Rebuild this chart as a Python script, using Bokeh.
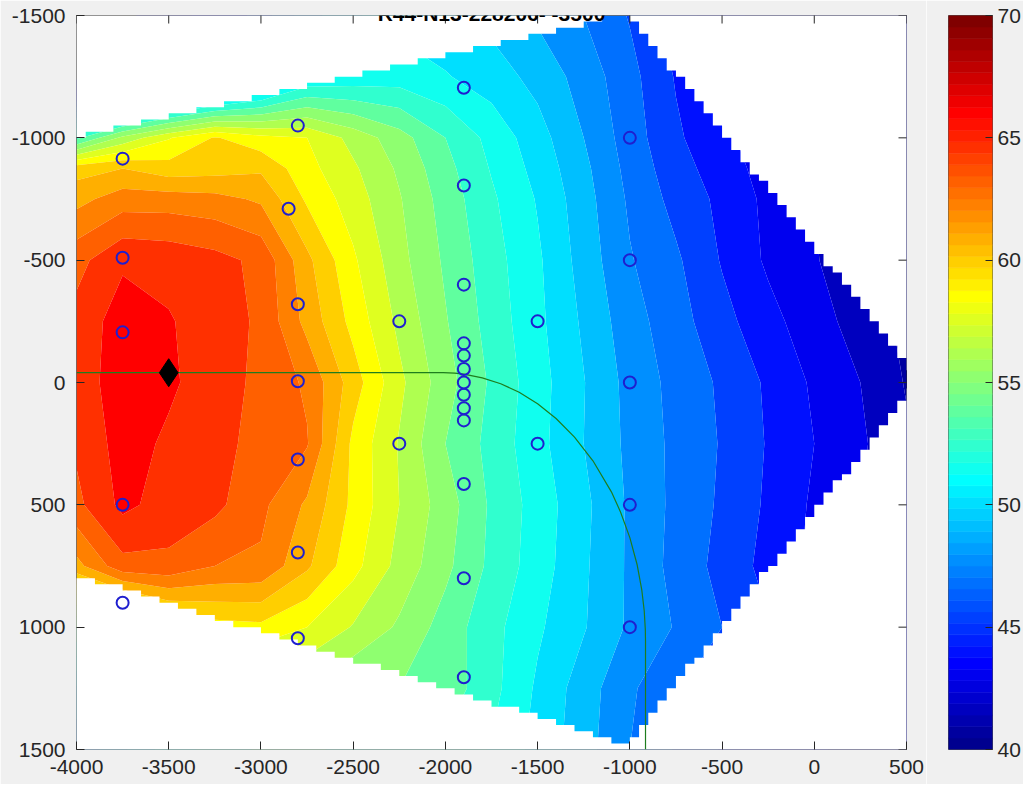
import numpy as np
from bokeh.plotting import figure
from bokeh.models import Range1d, FixedTicker, Label
from bokeh.layouts import row
from bokeh.embed import file_html
from bokeh.resources import INLINE

# ---------------- data ----------------
TITLE = "R44-N13-228206- -3500"

X_NODES = [-4000, -3750, -3500, -3250, -3000, -2750, -2500, -2250, -2000, -1750,
           -1500, -1250, -1000, -750, -500, -250, 0, 250, 500, 750]
Y_NODES = [-1500, -1250, -1000, -875, -750, -500, -250, 0, 250, 500, 750, 1000, 1250, 1500]

Z_Y_M1500 = [38.0, 40.0, 42.0, 44.0, 46.0, 48.5, 50.0, 51.0, 50.5, 49.8, 48.8, 47.8, 46.5, 44.8, 43.5, 42.5, 41.5, 41.0, 40.8, 40.7]
Z_Y_M1250 = [40.0, 42.0, 44.0, 46.0, 48.5, 51.4, 51.8, 52.0, 51.5, 50.8, 49.8, 48.5, 47.0, 45.3, 44.0, 43.0, 42.0, 41.4, 41.0, 40.8]
Z_Y_M1000 = [53.5, 56.5, 58.5, 59.9, 59.0, 58.6, 57.0, 55.5, 53.8, 52.2, 50.7, 49.0, 47.2, 45.6, 44.5, 43.5, 42.5, 41.5, 41.0, 40.8]
Z_Y_M875 = [60.5, 61.0, 60.3, 60.5, 60.8, 59.0, 57.6, 56.0, 54.2, 52.5, 51.0, 49.3, 47.4, 45.9, 44.8, 43.7, 42.8, 41.8, 41.2, 40.9]
Z_Y_M750 = [61.8, 62.8, 62.8, 62.6, 62.0, 59.6, 58.0, 56.3, 54.5, 52.8, 51.3, 49.5, 47.6, 46.2, 45.1, 43.9, 43.0, 42.0, 41.3, 41.0]
Z_Y_M500 = [64.2, 65.6, 65.4, 65.0, 64.3, 61.3, 58.8, 56.6, 54.8, 53.1, 51.6, 49.7, 47.9, 46.8, 45.3, 44.0, 43.1, 42.2, 41.5, 41.0]
Z_Y_M250 = [65.0, 66.4, 65.9, 65.2, 64.4, 61.8, 59.4, 57.1, 55.1, 53.3, 51.7, 50.0, 48.3, 47.1, 45.8, 44.6, 43.5, 42.5, 41.5, 41.0]
Z_Y_0 = [65.3, 66.3, 66.0, 65.2, 64.3, 63.2, 60.4, 57.7, 55.5, 53.6, 51.9, 50.25, 48.6, 47.4, 46.4, 45.2, 44.0, 43.0, 41.7, 41.0]
Z_Y_250 = [64.8, 66.3, 65.6, 65.0, 64.2, 63.5, 59.5, 57.3, 55.0, 53.4, 51.8, 50.2, 48.7, 47.5, 46.5, 45.3, 44.2, 43.2, 42.0, 41.0]
Z_Y_500 = [64.3, 66.1, 65.3, 64.9, 63.7, 62.0, 59.5, 57.4, 55.6, 53.6, 52.1, 50.5, 48.8, 47.5, 46.4, 45.2, 44.0, 43.0, 42.0, 41.0]
Z_Y_750 = [61.8, 64.2, 64.3, 63.4, 63.2, 61.2, 59.0, 57.0, 55.3, 53.5, 52.0, 50.4, 48.8, 47.4, 46.2, 45.0, 43.9, 43.0, 42.0, 41.0]
Z_Y_1000 = [55.0, 56.0, 58.5, 59.3, 59.5, 58.6, 57.3, 56.0, 54.5, 53.0, 51.6, 50.3, 48.8, 47.7, 46.6, 45.5, 44.5, 43.5, 42.5, 41.5]
Z_Y_1250 = [50.0, 52.0, 54.0, 55.0, 56.0, 56.0, 55.0, 55.0, 54.5, 53.0, 51.2, 49.6, 48.0, 46.8, 45.5, 44.5, 43.5, 42.5, 42.0, 41.5]
Z_Y_1500 = [48.0, 50.0, 52.0, 53.0, 54.0, 54.0, 53.5, 53.5, 53.5, 52.5, 51.0, 49.5, 47.8, 46.5, 45.3, 44.3, 43.3, 42.3, 41.8, 41.3]

LEVELS = [40.6, 41.8, 43.0, 44.2, 45.4, 46.6, 47.8, 49.0, 50.2, 51.4, 52.6, 53.8,
          55.0, 56.2, 57.4, 58.6, 59.8, 61.0, 62.2, 63.4, 64.6, 65.8, 67.0]

CLIM_LOW, CLIM_HIGH = 40, 70
CB_TICKS = [40, 45, 50, 55, 60, 65, 70]
X_TICKS = [-4000, -3500, -3000, -2500, -2000, -1500, -1000, -500, 0, 500]
Y_TICKS = [-1500, -1000, -500, 0, 500, 1000, 1500]

# outline of the gridded (valid) area
REGION_X = [-4000, -1010, 576, -1012, -4000]
REGION_Y = [-1000, -1507, -14, 1478, 785]

# measurement points
PT_X = [-3750, -3750, -3750, -3750, -3750,
        -2800, -2850, -2800, -2800, -2800, -2800, -2800,
        -2250, -2250,
        -1900, -1900, -1900, -1900, -1900, -1900, -1900, -1900, -1900, -1900, -1900, -1900, -1900,
        -1500, -1500,
        -1000, -1000, -1000, -1000, -1000]
PT_Y = [-915, -510, -205, 500, 900,
        -1050, -710, -320, -5, 315, 695, 1045,
        -250, 250,
        -1205, -805, -400, -160, -110, -55, 0, 50, 105, 155, 415, 800, 1205,
        -250, 250,
        -1000, -500, 0, 500, 1000]

PEAK_X = [-3500]
PEAK_Y = [-40]

WELL_X = [-4000, -2100, -2012, -1950, -1900, -1800, -1700, -1600, -1500, -1400, -1300,
          -1200, -1100, -1050, -1000, -960, -935, -922, -916, -915, -915]
WELL_Y = [-40, -40, -40, -38, -34, -19, 5, 40, 87, 147, 223,
          320, 447, 530, 634, 746, 849, 933, 1010, 1057, 1500]

# ---------------- helpers ----------------
def jet(m=64):
    n = int(np.ceil(m / 4))
    u = np.concatenate([np.arange(1, n + 1) / n, np.ones(n - 1), np.arange(n, 0, -1) / n])
    g = int(np.ceil(n / 2)) - (1 if m % 4 == 1 else 0) + np.arange(1, len(u) + 1)
    r = g + n
    b = g - n
    J = np.zeros((m, 3))
    for arr, ch in ((r, 0), (g, 1), (b, 2)):
        ok = (arr >= 1) & (arr <= m)
        J[arr[ok] - 1, ch] = u[ok]
    return ["#%02x%02x%02x" % tuple(int(round(c * 255)) for c in rgb) for rgb in J]

JET = jet(64)

def cmap_index(v):
    i = int(np.floor((v - CLIM_LOW) / (CLIM_HIGH - CLIM_LOW) * len(JET)))
    return min(max(i, 0), len(JET) - 1)

BAND_COLORS = [JET[cmap_index(lv)] for lv in LEVELS[:-1]]

Z = np.array([Z_Y_M1500, Z_Y_M1250, Z_Y_M1000, Z_Y_M875, Z_Y_M750, Z_Y_M500, Z_Y_M250,
              Z_Y_0, Z_Y_250, Z_Y_500, Z_Y_750, Z_Y_1000, Z_Y_1250, Z_Y_1500], dtype=float)

def inside_poly(px, py, vx, vy):
    s = []
    n = len(vx)
    for i in range(n):
        x1, y1 = vx[i], vy[i]
        x2, y2 = vx[(i + 1) % n], vy[(i + 1) % n]
        s.append((x2 - x1) * (py - y1) - (y2 - y1) * (px - x1))
    s = np.array(s)
    return np.all(s >= 0, axis=0) | np.all(s <= 0, axis=0)

# staircase outline of the valid area on the interpolation grid
CELL_W, CELL_H = 50, 25
cells_x = np.arange(-4000, 600, CELL_W)
cells_y = np.arange(-1550, 1550, CELL_H)
CX, CY = np.meshgrid(cells_x + CELL_W / 2, cells_y + CELL_H / 2)
INSIDE = inside_poly(CX, CY, REGION_X, REGION_Y)
top_pts, bot_pts = [], []
for i, xl in enumerate(cells_x):
    rows_in = np.where(INSIDE[:, i])[0]
    if len(rows_in) == 0:
        continue
    t = cells_y[rows_in.min()]
    b = cells_y[rows_in.max()] + CELL_H
    top_pts += [(xl, t), (xl + CELL_W, t)]
    bot_pts += [(xl, b), (xl + CELL_W, b)]
hole = (top_pts + bot_pts[::-1])[::-1]
hole_x = [float(q[0]) for q in hole]
hole_y = [float(q[1]) for q in hole]
outer_x = [-4600.0, 1100.0, 1100.0, -4600.0]
outer_y = [-2000.0, -2000.0, 2000.0, 2000.0]

# ---------------- main figure ----------------
FONT = "Liberation Sans"
TXT = "#262626"
BG = "#f0f0f0"

p = figure(frame_width=830, frame_height=734,
           x_range=Range1d(-4000, 500), y_range=Range1d(1500, -1500),
           output_backend="svg", toolbar_location=None,
           min_border_left=76, min_border_right=20, min_border_top=15, min_border_bottom=35,
           border_fill_color=BG, background_fill_color="white")
p.grid.visible = False
p.outline_line_color = TXT
p.outline_line_width = 1

cr = p.contour(x=X_NODES, y=Y_NODES, z=Z, levels=LEVELS, fill_color=BAND_COLORS, line_color=None)
try:
    g = cr.fill_renderer.glyph
    g.line_color = g.fill_color
    g.line_width = 0.8
except Exception:
    pass

p.multi_polygons(xs=[[[outer_x, hole_x]]], ys=[[[outer_y, hole_y]]],
                 fill_color="white", line_color=None)

p.line(WELL_X, WELL_Y, line_color="#1e7d1e", line_width=1.2)
p.scatter(PT_X, PT_Y, marker="circle", size=12, fill_color=None,
          line_color="#1f1fcf", line_width=2)
p.scatter(PEAK_X, PEAK_Y, marker="diamond", size=28, fill_color="black", line_color="black")

# mirrored inward ticks on the top and right edges of the box
p.scatter(X_TICKS, [Y_TICKS[0]] * len(X_TICKS), marker="dash", angle=np.pi / 2, size=16,
          line_color=TXT, line_width=1)
p.scatter([X_TICKS[-1]] * len(Y_TICKS), Y_TICKS, marker="dash", size=16,
          line_color=TXT, line_width=1)

for ax in (p.xaxis[0], p.yaxis[0]):
    ax.major_tick_in = 8
    ax.major_tick_out = 0
    ax.minor_tick_in = 0
    ax.minor_tick_out = 0
    ax.axis_line_color = None
    ax.major_tick_line_color = TXT
    ax.major_label_text_font = FONT
    ax.major_label_text_font_size = "21px"
    ax.major_label_text_color = TXT
p.xaxis[0].ticker = FixedTicker(ticks=X_TICKS)
p.yaxis[0].ticker = FixedTicker(ticks=Y_TICKS)
p.xaxis[0].major_label_overrides = {t: str(t) for t in X_TICKS}
p.yaxis[0].major_label_overrides = {t: str(t) for t in Y_TICKS}
p.xaxis[0].major_label_standoff = 10
p.yaxis[0].major_label_standoff = 11

p.add_layout(Label(x=(X_TICKS[0] + X_TICKS[-1]) / 2, y=Y_TICKS[0], y_offset=2, text=TITLE,
                   text_align="center", text_baseline="alphabetic",
                   text_font=FONT, text_font_style="bold", text_font_size="21px",
                   text_color="black"))

# ---------------- colour bar ----------------
cb = figure(frame_width=44, frame_height=734,
            x_range=Range1d(0, 1), y_range=Range1d(CLIM_LOW, CLIM_HIGH),
            output_backend="svg", toolbar_location=None,
            x_axis_location=None, y_axis_location="right",
            min_border_left=22, min_border_right=29, min_border_top=15, min_border_bottom=35,
            border_fill_color=BG, background_fill_color="white")
cb.grid.visible = False
cb.outline_line_color = TXT
cb.outline_line_width = 0.8
edges = np.linspace(CLIM_LOW, CLIM_HIGH, len(JET) + 1)
cb.quad(left=0, right=1, bottom=edges[:-1], top=edges[1:],
        fill_color=JET, line_color=JET, line_width=0.6)
ya = cb.yaxis[0]
ya.ticker = FixedTicker(ticks=CB_TICKS)
ya.major_tick_in = 7
ya.major_tick_out = 0
ya.minor_tick_in = 0
ya.minor_tick_out = 0
ya.axis_line_color = None
ya.major_tick_line_color = TXT
ya.major_label_text_font = FONT
ya.major_label_text_font_size = "21px"
ya.major_label_text_color = TXT
ya.major_label_standoff = 5

layout = row(p, cb)

open("out.html", "w").write(file_html(layout, INLINE))
